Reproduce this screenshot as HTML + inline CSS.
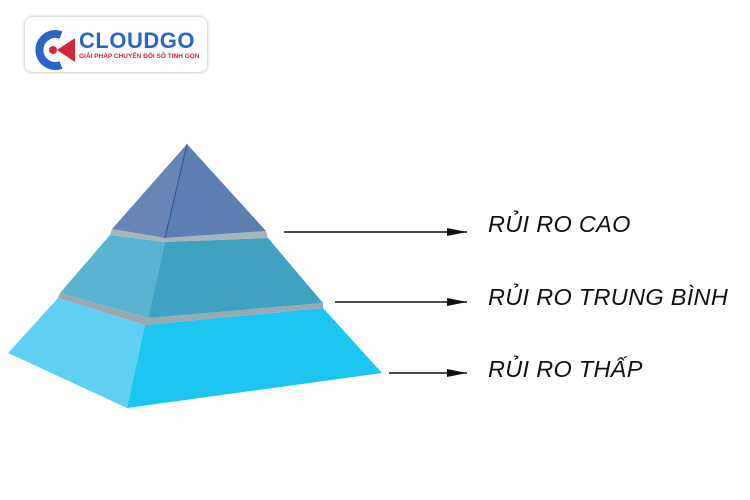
<!DOCTYPE html>
<html><head><meta charset="utf-8"><style>
body{margin:0;width:750px;height:500px;background:#fff;position:relative;overflow:hidden;font-family:"Liberation Sans",sans-serif}
.logo{position:absolute;left:25px;top:17px;width:182px;height:55px;border-radius:7px;background:#fff;box-shadow:0 0 3px rgba(0,0,0,.35)}
.t{position:absolute;left:488px;font-style:italic;font-size:23.5px;color:#111;letter-spacing:0.3px}
</style></head><body>
<div class="logo">
<svg width="50" height="50" style="position:absolute;left:6px;top:8px" viewBox="0 0 50 50">
<path d="M30 10 A16 16 0 1 0 30 40" fill="none" stroke="#2a64c8" stroke-width="8"/>
<circle cx="22" cy="25" r="4" fill="#d4263a"/>
<path d="M26 25 L44 13 L44 37 Z" fill="#d4263a"/>
</svg>
<div style="position:absolute;left:54px;top:11px;font-weight:bold;font-size:22px;color:#2a64c8;letter-spacing:0.5px">CLOUDGO</div>
<div style="position:absolute;left:54px;top:36px;font-weight:bold;font-size:6.5px;color:#d4263a;white-space:nowrap">GIẢI PHÁP CHUYỂN ĐỔI SỐ TINH GỌN</div>
</div>
<svg width="750" height="500" style="position:absolute;left:0;top:0">
<defs>
<marker id="a" markerWidth="20" markerHeight="8" refX="20" refY="4" orient="auto" markerUnits="userSpaceOnUse"><path d="M0 0 L20 4 L0 8 Z" fill="#111"/></marker>
</defs>
<polygon points="58,298 145,325 127,408 8,353" fill="#5fd0f2"/>
<polygon points="145,325 323,308 382,373 127,408" fill="#1cc4f0"/>
<polygon points="60,293 148,318 323,303 323,308 145,325 58,298" fill="#9aa8b0"/>
<polygon points="110,235 165,242 148,318 60,293" fill="#5ab4cf"/>
<polygon points="165,242 268,238 323,303 148,318" fill="#3ea2c0"/>
<polygon points="112,229 165,238 266,231 268,238 165,242 110,235" fill="#a8b4bc"/>
<polygon points="187,144 165,238 112,229" fill="#6786b4"/>
<polygon points="187,144 266,231 165,238" fill="#5b7fb0"/>
<line x1="187" y1="144" x2="165" y2="238" stroke="#2e5590" stroke-width="1"/>
<line x1="284" y1="232" x2="467" y2="232" stroke="#111" stroke-width="1.6" marker-end="url(#a)"/>
<line x1="335" y1="302" x2="467" y2="302" stroke="#111" stroke-width="1.6" marker-end="url(#a)"/>
<line x1="389" y1="373" x2="467" y2="373" stroke="#111" stroke-width="1.6" marker-end="url(#a)"/>
</svg>
<div class="t" style="top:211px">RỦI RO CAO</div>
<div class="t" style="top:284px">RỦI RO TRUNG BÌNH</div>
<div class="t" style="top:356px">RỦI RO THẤP</div>
</body></html>
